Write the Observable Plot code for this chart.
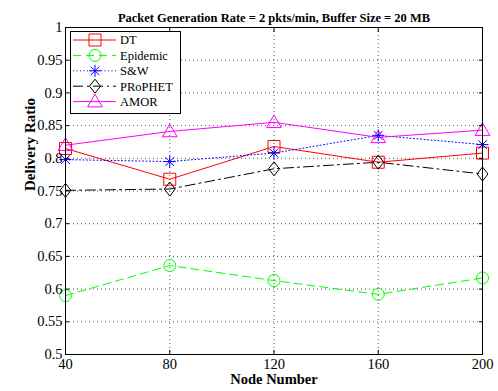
<!DOCTYPE html>
<html>
<head>
<meta charset="utf-8">
<script src="https://cdn.jsdelivr.net/npm/d3@7"></script>
<script src="https://cdn.jsdelivr.net/npm/@observablehq/plot@0.6"></script>
<style>
  html, body { margin: 0; padding: 0; background: white; }
  #chart svg { display: block; }
  #chart svg text { font-family: 'Liberation Serif', 'Times New Roman', serif; }
</style>
</head>
<body>
<div id="chart"></div>
<script>
// ---- data ----
const nodes = [40, 80, 120, 160, 200];
const dtValues = [0.815, 0.768, 0.818, 0.794, 0.808];
const epidemicValues = [0.590, 0.636, 0.613, 0.592, 0.617];
const swValues = [0.798, 0.795, 0.808, 0.835, 0.821];
const prophetValues = [0.751, 0.753, 0.784, 0.794, 0.776];
const amorValues = [0.820, 0.841, 0.855, 0.832, 0.843];
const seriesNames = ["DT", "Epidemic", "S&W", "PRoPHET", "AMOR"];
const xTicks = [40, 80, 120, 160, 200];
const yTicks = [0.5, 0.55, 0.6, 0.65, 0.7, 0.75, 0.8, 0.85, 0.9, 0.95, 1];
const titleText = "Packet Generation Rate = 2 pkts/min, Buffer Size = 20 MB";
const xLabel = "Node Number";
const yLabel = "Delivery Ratio";

const serif = "'Liberation Serif', 'Times New Roman', serif";

// ---- symbols (MATLAB-like open markers) ----
const rad = s => Math.sqrt(s / Math.PI);
const symbols = {
  square: {draw(c, s) { const r = rad(s); c.moveTo(-r, -r); c.lineTo(r, -r); c.lineTo(r, r); c.lineTo(-r, r); c.closePath(); }},
  circle: {draw(c, s) { const r = rad(s); c.moveTo(r, 0); c.arc(0, 0, r, 0, 2 * Math.PI); }},
  asterisk: {draw(c, s) { const r = rad(s), d = r * 0.72;
    c.moveTo(-r, 0); c.lineTo(r, 0); c.moveTo(0, -r); c.lineTo(0, r);
    c.moveTo(-d, -d); c.lineTo(d, d); c.moveTo(-d, d); c.lineTo(d, -d); }},
  diamond: {draw(c, s) { const r = rad(s), w = r * 0.78;
    c.moveTo(0, -r); c.lineTo(w, 0); c.lineTo(0, r); c.lineTo(-w, 0); c.closePath(); }},
  triangle: {draw(c, s) { const r = rad(s);
    c.moveTo(0, -1.05 * r); c.lineTo(1.05 * r, 0.75 * r); c.lineTo(-1.05 * r, 0.75 * r); c.closePath(); }}
};

const styles = [
  {color: "#ff0000", dash: null, symbol: symbols.square, r: 6},
  {color: "#00ff00", dash: "8,5", symbol: symbols.circle, r: 6},
  {color: "#0000ff", dash: "1,2.5", symbol: symbols.asterisk, r: 6},
  {color: "#000000", dash: "10,4,2,4", symbol: symbols.diamond, r: 7},
  {color: "#ff00ff", dash: null, symbol: symbols.triangle, r: 7}
];

const valueLists = [dtValues, epidemicValues, swValues, prophetValues, amorValues];
const table = [];
seriesNames.forEach((name, i) => {
  nodes.forEach((n, j) => table.push({series: name, node: n, value: valueLists[i][j]}));
});

const fmt = d => String(+d.toFixed(2));

const seriesMarks = [];
seriesNames.forEach((name, i) => {
  const st = styles[i];
  const data = table.filter(d => d.series === name);
  seriesMarks.push(Plot.line(data, {x: "node", y: "value", stroke: st.color, strokeWidth: 1,
    strokeDasharray: st.dash || undefined}));
});
seriesNames.forEach((name, i) => {
  const st = styles[i];
  const data = table.filter(d => d.series === name);
  seriesMarks.push(Plot.dot(data, {x: "node", y: "value", symbol: st.symbol, r: st.r,
    fill: "none", stroke: st.color, strokeWidth: 1}));
});

const chart = Plot.plot({
  width: 498,
  height: 391,
  marginLeft: 65,
  marginRight: 16,
  marginTop: 27,
  marginBottom: 37,
  style: {fontFamily: serif, fontSize: "15px", background: "white", color: "black"},
  x: {domain: [40, 200], label: null},
  y: {domain: [0.5, 1], label: null},
  marks: [
    Plot.gridX(xTicks, {stroke: "#555", strokeOpacity: 1, strokeDasharray: "1,3"}),
    Plot.gridY(yTicks, {stroke: "#555", strokeOpacity: 1, strokeDasharray: "1,3"}),
    ...seriesMarks,
    Plot.frame({stroke: "black", strokeWidth: 1}),
    Plot.axisX(xTicks, {anchor: "bottom", tickSize: -4, tickFormat: () => "", label: null}),
    Plot.axisX(xTicks, {anchor: "top", tickSize: -4, tickFormat: () => "", label: null}),
    Plot.axisY(yTicks, {anchor: "left", tickSize: -4, tickFormat: () => "", label: null}),
    Plot.axisY(yTicks, {anchor: "right", tickSize: -4, tickFormat: () => "", label: null}),
    Plot.axisX(xTicks, {anchor: "bottom", tickSize: 0, tickPadding: 4, tickFormat: fmt, label: null, fontSize: 14.5, fontFamily: serif}),
    Plot.axisY(yTicks, {anchor: "left", tickSize: 0, tickPadding: 3, tickFormat: fmt, label: null, fontSize: 14.5, fontFamily: serif}),
    Plot.text([titleText], {text: d => d, frameAnchor: "top", dy: -14, fontWeight: "bold", fontSize: 12.5, fontFamily: serif}),
    Plot.text([xLabel], {text: d => d, frameAnchor: "bottom", dy: 29.5, fontWeight: "bold", fontSize: 14.5, fontFamily: serif}),
    Plot.text([yLabel], {text: d => d, frameAnchor: "left", dx: -35, rotate: -90, fontWeight: "bold", fontSize: 15, fontFamily: serif})
  ]
});

document.getElementById("chart").appendChild(chart);

// ---- legend (MATLAB style box) ----
const svg = d3.select(chart);
const lg = svg.append("g").attr("class", "legend");
lg.append("rect").attr("x", 70.5).attr("y", 31.5).attr("width", 110).attr("height", 82)
  .attr("fill", "white").attr("stroke", "black").attr("stroke-width", 1);
seriesNames.forEach((name, i) => {
  const st = styles[i];
  const y = 40 + i * 15.4;
  lg.append("line").attr("x1", 73).attr("x2", 116).attr("y1", y).attr("y2", y)
    .attr("stroke", st.color).attr("stroke-width", 1)
    .attr("stroke-dasharray", st.dash);
  lg.append("path").attr("d", d3.symbol(st.symbol, Math.PI * st.r * st.r)())
    .attr("transform", `translate(95,${y})`)
    .attr("fill", "none").attr("stroke", st.color).attr("stroke-width", 1);
  lg.append("text").attr("x", 120).attr("y", y).attr("dy", "0.35em")
    .attr("text-anchor", "start")
    .attr("font-family", serif)
    .attr("font-size", 12.5).attr("fill", "black").text(name);
});
</script>
</body>
</html>
